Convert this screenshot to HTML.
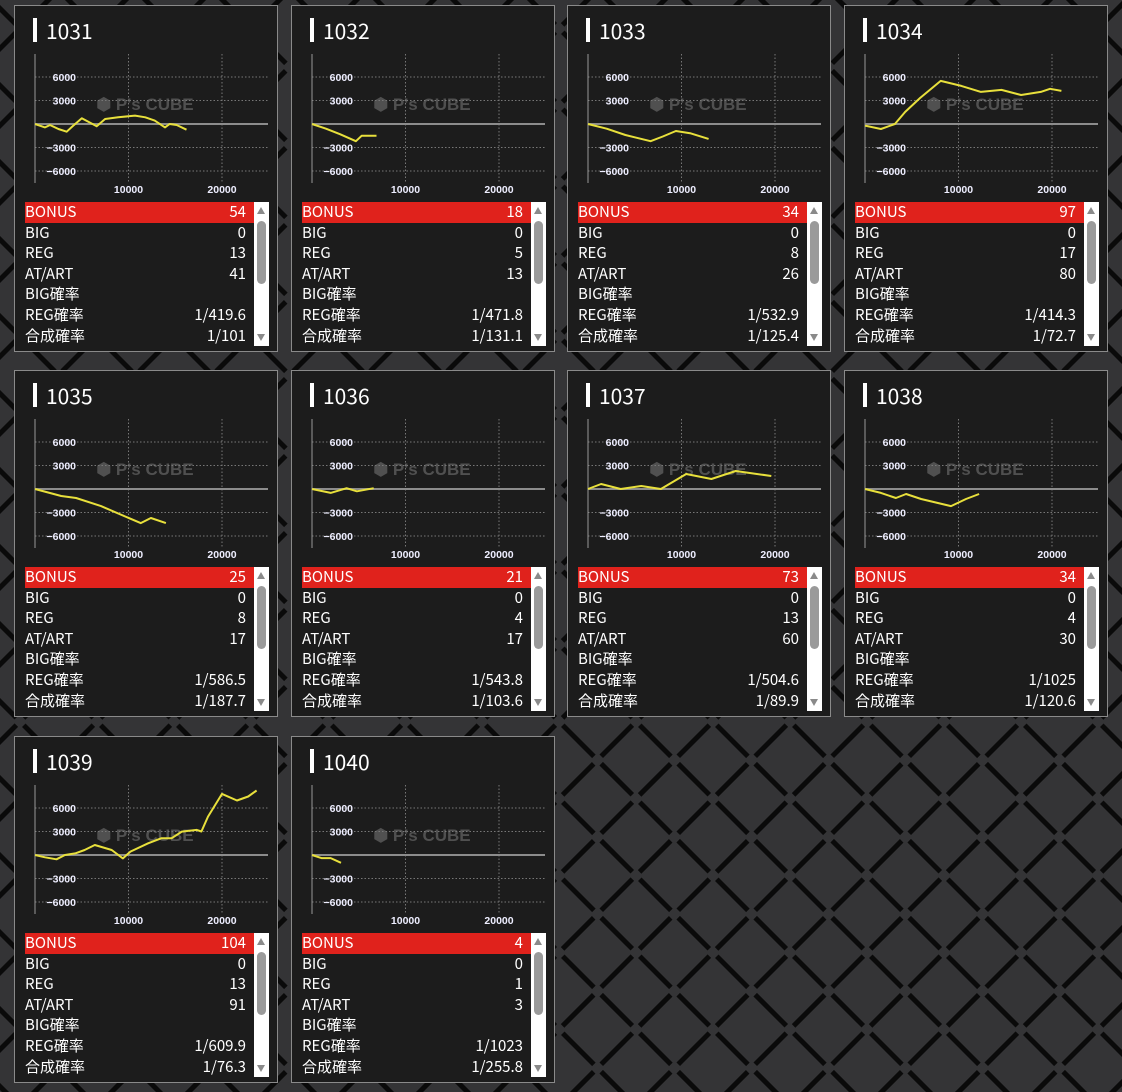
<!DOCTYPE html>
<html><head><meta charset="utf-8">
<style>
html,body{margin:0;padding:0;width:1122px;height:1092px;overflow:hidden;background:#343436;}
#bg{position:absolute;left:0;top:0}
.panel{position:absolute;width:262px;height:345px;background:#1c1c1c;border:1px solid #8a8a8a;box-sizing:content-box;font-family:"Liberation Sans","Noto Sans CJK JP",sans-serif;color:#fff}
.hbar{position:absolute;left:18px;top:12px;width:4px;height:24px;background:#fff}
.title{position:absolute;left:31px;top:12px;font-size:21px;line-height:26px;font-family:"Noto Sans CJK JP","Liberation Sans",sans-serif}
.chart{position:absolute;left:0;top:0}
.tbl{position:absolute;left:10px;top:196px;width:229px}
.row{height:20.6px;line-height:20.6px;font-size:15px;font-family:"Noto Sans CJK JP","Liberation Sans",sans-serif;position:relative;color:#fff}
.row.red{background:#e0221c}
.row .k{position:absolute;left:0}
.row .v{position:absolute;right:8px}
.sb{position:absolute;left:239px;top:196px;width:15px;height:144px;background:#fff}
.thumb{position:absolute;left:3px;top:19px;width:9px;height:63px;background:#9a9a9a;border-radius:5px}
.au{position:absolute;left:3px;top:5px;width:0;height:0;border-left:4.5px solid transparent;border-right:4.5px solid transparent;border-bottom:7px solid #8a8a8a}
.ad{position:absolute;left:3px;bottom:5px;width:0;height:0;border-left:4.5px solid transparent;border-right:4.5px solid transparent;border-top:7px solid #8a8a8a}
</style></head><body>
<svg id="bg" width="1122" height="1092">
<defs><pattern id="dia" width="77" height="77" patternUnits="userSpaceOnUse" x="20" y="-10">
<rect width="77" height="77" fill="#343436"/>
<path d="M38.5 0 L77 38.5 L38.5 77 L0 38.5 Z" fill="none" stroke="#0a0a0a" stroke-width="5" stroke-dasharray="44 10.4" stroke-dashoffset="-5.2"/>
</pattern></defs>
<rect width="1122" height="1092" fill="url(#dia)"/>
</svg>
<div id="root"></div>
<script>
const ids=["1031","1032","1033","1034","1035","1036","1037","1038","1039","1040"];
const bonus=[54,18,34,97,25,21,73,34,104,4];
const big=[0,0,0,0,0,0,0,0,0,0];
const reg=[13,5,8,17,8,4,13,4,13,1];
const art=[41,13,26,80,17,17,60,30,91,3];
const regProb=["1/419.6","1/471.8","1/532.9","1/414.3","1/586.5","1/543.8","1/504.6","1/1025","1/609.9","1/1023"];
const totProb=["1/101","1/131.1","1/125.4","1/72.7","1/187.7","1/103.6","1/89.9","1/120.6","1/76.3","1/255.8"];
const yTicks=[6000,3000,-3000,-6000];
const xTicks=[10000,20000];
const games=[
[0,1070,1600,2500,3390,4100,5000,6600,7500,8900,10700,11800,12800,13900,14400,15150,16200],
[0,1500,3000,4700,5300,6900],
[0,2000,4000,6700,8000,9400,11000,12900],
[0,1700,3200,4300,5900,8100,10300,12400,14600,16700,18800,19800,21000],
[0,2800,4400,7060,11300,12400,14000],
[0,2000,3700,4800,6600],
[0,1400,3500,5700,7800,10500,13200,15800,19600],
[0,1700,3300,4400,6000,9200,10800,12200],
[0,1070,2300,3200,4300,5300,6400,8200,9400,10200,12100,13500,14600,15700,17300,17800,18500,20000,21600,22800,23700],
[0,1000,2000,3100]];
const diffs=[
[0,-430,-130,-640,-980,-210,730,-300,640,850,1070,850,430,-430,0,-130,-730],
[0,-600,-1300,-2200,-1500,-1500],
[0,-600,-1400,-2200,-1600,-900,-1200,-1900],
[-200,-640,0,1540,3330,5500,4860,4100,4350,3700,4100,4500,4220],
[0,-900,-1150,-2180,-4350,-3700,-4350],
[0,-500,100,-300,100],
[0,640,0,380,0,1920,1280,2300,1660],
[0,-500,-1150,-640,-1280,-2180,-1280,-640],
[0,-300,-550,0,210,640,1280,640,-430,430,1500,2130,2130,2990,3200,3000,4900,7800,6960,7470,8240],
[0,-400,-400,-1000]];
const colX=[14,291,567,844], rowY=[5,370,736];
const X0=20, XS=93.5/10000, Y0=118, YS=47/6000;
const sx=g=>X0+g*XS, sy=v=>Y0-v*YS;
const NS="http://www.w3.org/2000/svg";
const root=document.getElementById('root');
function sv(tag,attrs,parent){const e=document.createElementNS(NS,tag);for(const k in attrs)e.setAttribute(k,attrs[k]);parent.appendChild(e);return e;}
ids.forEach((id,i)=>{
  const p=document.createElement('div');p.className='panel';
  p.style.left=colX[i%4]+'px';p.style.top=rowY[Math.floor(i/4)]+'px';
  
  
  root.appendChild(p);
  const hb=document.createElement('div');hb.className='hbar';
  
  
  p.appendChild(hb);
  const t=document.createElement('div');t.className='title';t.textContent=id;
  
  
  p.appendChild(t);
  const s=sv('svg',{width:262,height:195,class:'chart'},p);
  
  
  const wm=sv('text',{x:130,y:104,'text-anchor':'middle','font-size':'17','font-weight':'bold',fill:'#505050','font-family':'Liberation Sans, sans-serif'},s);wm.textContent="\u2B22 P's CUBE";
  
  
  yTicks.forEach(v=>{
    const l=sv('line',{x1:X0,x2:253,y1:sy(v),y2:sy(v),stroke:'#777','stroke-width':1,'stroke-dasharray':'1.5 2'},s);
    
    
    const tx=sv('text',{x:61,y:sy(v)+4,'text-anchor':'end','font-size':'10.5','font-weight':'bold',fill:'#eef','font-family':'Liberation Sans, sans-serif'},s);tx.textContent=String(v).replace('-','\u2212');
    
    
  });
  xTicks.forEach(v=>{
    const l=sv('line',{x1:sx(v),x2:sx(v),y1:48,y2:177,stroke:'#777','stroke-width':1,'stroke-dasharray':'1.5 2'},s);
    
    
    const tx=sv('text',{x:sx(v),y:187,'text-anchor':'middle','font-size':'10.5','font-weight':'bold',fill:'#eef','font-family':'Liberation Sans, sans-serif'},s);tx.textContent=v;
    
    
  });
  const ax=sv('line',{x1:X0,x2:X0,y1:48,y2:177,stroke:'#999','stroke-width':1},s);
  
  
  const z=sv('line',{x1:X0,x2:253,y1:Y0,y2:Y0,stroke:'#8c8c8c','stroke-width':2},s);
  
  
  const pts=games[i].map((g,j)=>sx(g).toFixed(1)+','+sy(diffs[i][j]).toFixed(1)).join(' ');
  const pl=sv('polyline',{points:pts,fill:'none',stroke:'#e8e03c','stroke-width':2,'stroke-linejoin':'round'},s);
  
  
  const tb=document.createElement('div');tb.className='tbl';
  
  
  const rows=[['BONUS',bonus[i]],['BIG',big[i]],['REG',reg[i]],['AT/ART',art[i]],['BIG確率',''],['REG確率',regProb[i]],['合成確率',totProb[i]]];
  rows.forEach((r,j)=>{
    const d=document.createElement('div');d.className='row'+(j==0?' red':'');
    d.innerHTML='<span class="k">'+r[0]+'</span><span class="v">'+r[1]+'</span>';
    
    
    tb.appendChild(d);
  });
  p.appendChild(tb);
  const sb=document.createElement('div');sb.className='sb';
  sb.innerHTML='<div class="au"></div><div class="thumb"></div><div class="ad"></div>';
  
  
  p.appendChild(sb);
});
</script>
</body></html>
